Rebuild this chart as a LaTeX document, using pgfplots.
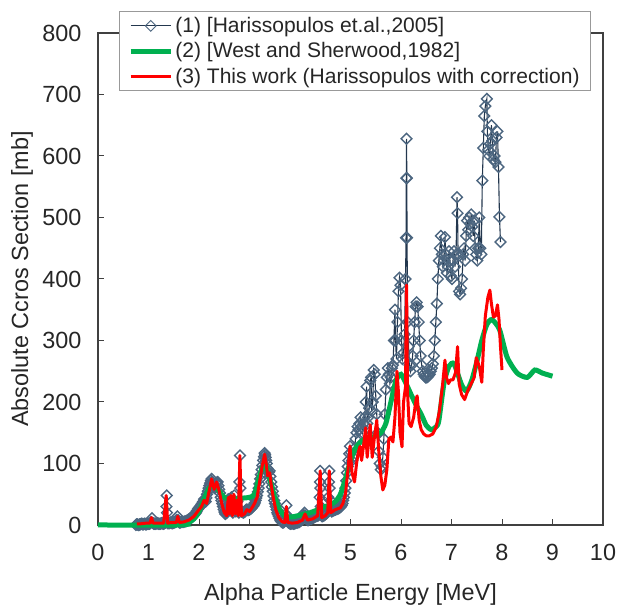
\documentclass[border=0pt]{standalone}
\usepackage{pgfplots}
\pgfplotsset{compat=1.18}
\usepackage{pgfplotstable}
\usepackage{fontspec}
\setmainfont{Liberation Sans}
\definecolor{hmark}{RGB}{76,102,128}
\definecolor{hline}{RGB}{35,55,78}
\definecolor{wgreen}{RGB}{0,176,80}
\definecolor{axgray}{RGB}{64,64,64}
\pgfplotsset{
  mylegline/.style={legend image code/.code={\draw[##1] (0bp,0bp) -- (40bp,0bp);}},
  mylegmark/.style={legend image code/.code={\draw[##1, mark repeat=2, mark phase=2, mark options={rotate=45, draw=hmark, line width=0.9bp, fill=none, solid}] plot coordinates {(0bp,0bp) (20bp,0bp) (40bp,0bp)};}},
}

% (1) Harissopulos et al., 2005
\pgfplotstableread{
E s
0.75 0
0.765 1
0.78 1
0.795 0
0.81 0
0.825 1
0.84 1
0.855 2
0.87 2
0.885 1
0.90 1
0.915 2
0.93 2
0.945 1
0.96 1
0.975 2
0.99 2
1.005 2
1.02 2
1.035 3
1.05 5
1.07 11
1.09 3
1.105 2
1.12 2
1.135 2
1.15 2
1.165 3
1.18 3
1.195 2
1.21 2
1.225 2
1.24 2
1.255 3
1.27 3
1.285 2
1.30 2
1.32 3
1.34 4
1.355 30
1.36 48
1.365 20
1.38 3
1.40 3
1.42 3
1.435 4
1.45 4
1.465 3
1.48 3
1.495 4
1.51 4
1.525 5
1.54 5
1.555 8
1.57 14
1.585 8
1.60 5
1.615 4
1.63 4
1.645 5
1.66 5
1.68 5
1.70 5
1.72 6
1.74 6
1.76 7
1.78 8
1.80 9
1.82 10
1.84 12
1.86 13
1.88 14
1.90 16
1.92 18
1.94 20
1.96 23
1.98 26
2.00 28
2.02 30
2.04 32
2.06 35
2.08 38
2.10 42
2.115 40
2.13 38
2.145 44
2.16 50
2.175 55
2.19 60
2.205 64
2.22 68
2.235 72
2.25 75
2.265 70
2.28 65
2.295 62
2.31 60
2.325 64
2.34 68
2.355 69
2.37 70
2.385 64
2.40 58
2.415 52
2.43 45
2.445 40
2.46 35
2.475 30
2.49 25
2.505 21
2.52 18
2.535 19
2.55 20
2.565 30
2.58 42
2.595 32
2.61 25
2.625 35
2.64 45
2.655 32
2.67 20
2.685 34
2.70 48
2.715 35
2.73 22
2.745 30
2.76 38
2.775 28
2.79 20
2.80 70
2.81 113
2.82 60
2.84 22
2.86 21
2.88 20
2.895 21
2.91 22
2.925 24
2.94 25
2.955 25
2.97 24
2.985 25
3.00 25
3.015 26
3.03 27
3.045 28
3.06 30
3.075 31
3.09 33
3.105 36
3.12 40
3.135 44
3.15 48
3.165 54
3.18 60
3.195 67
3.21 75
3.225 82
3.24 90
3.255 97
3.27 105
3.285 111
3.30 117
3.31 114
3.32 110
3.33 105
3.34 100
3.355 92
3.37 85
3.385 86
3.40 88
3.415 79
3.43 70
3.445 62
3.46 55
3.475 47
3.49 40
3.505 35
3.52 30
3.535 25
3.55 20
3.565 17
3.58 14
3.595 11
3.61 8
3.625 6
3.64 5
3.655 4
3.67 4
3.685 5
3.70 8
3.715 18
3.73 32
3.745 15
3.76 5
3.775 4
3.79 3
3.805 2
3.82 2
3.835 3
3.85 3
3.865 2
3.88 2
3.895 3
3.91 3
3.925 4
3.94 4
3.955 4
3.97 5
3.985 5
4.00 6
4.015 7
4.03 8
4.045 10
4.06 12
4.075 16
4.09 20
4.105 15
4.12 12
4.135 10
4.15 8
4.165 8
4.18 9
4.195 10
4.21 10
4.225 10
4.24 11
4.255 12
4.27 12
4.285 13
4.30 14
4.315 14
4.33 15
4.35 15
4.37 16
4.39 45
4.395 70
4.40 88
4.405 60
4.41 30
4.425 20
4.44 14
4.46 15
4.48 16
4.495 17
4.51 18
4.525 19
4.54 20
4.56 45
4.575 70
4.58 88
4.585 60
4.60 40
4.615 30
4.63 22
4.645 23
4.66 24
4.675 24
4.69 25
4.705 25
4.72 26
4.735 26
4.75 27
4.765 27
4.78 28
4.795 29
4.81 30
4.825 32
4.84 35
4.855 40
4.87 45
4.885 52
4.90 60
4.915 72
4.93 85
4.945 95
4.96 105
4.975 116
4.99 128
5.01 118
5.03 105
5.05 110
5.08 125
5.10 140
5.12 150
5.14 160
5.16 155
5.18 165
5.20 175
5.22 160
5.24 150
5.26 165
5.28 175
5.30 200
5.32 225
5.33 165
5.35 175
5.37 190
5.39 235
5.41 240
5.42 185
5.44 200
5.46 252
5.48 245
5.50 210
5.52 180
5.54 150
5.56 120
5.58 100
5.60 90
5.62 95
5.64 110
5.66 140
5.68 180
5.70 220
5.72 240
5.74 255
5.76 245
5.78 230
5.80 240
5.82 255
5.84 260
5.86 300
5.88 350
5.89 300
5.91 270
5.93 330
5.95 380
5.97 402
5.99 390
6.01 300
6.03 270
6.05 280
6.07 310
6.09 400
6.10 467
6.105 564
6.11 628
6.115 564
6.12 467
6.13 330
6.15 290
6.17 260
6.19 250
6.21 260
6.23 275
6.25 300
6.27 330
6.29 355
6.31 362
6.33 355
6.35 330
6.37 300
6.39 275
6.41 260
6.43 250
6.45 245
6.47 242
6.49 240
6.51 240
6.53 241
6.55 243
6.57 245
6.59 250
6.61 255
6.63 262
6.65 275
6.67 300
6.69 330
6.71 360
6.73 400
6.75 430
6.77 450
6.79 470
6.81 440
6.83 420
6.85 430
6.87 468
6.89 440
6.91 410
6.93 420
6.95 445
6.97 430
6.99 405
7.01 400
7.03 430
7.05 445
7.07 420
7.09 440
7.11 533
7.12 507
7.13 440
7.15 380
7.17 375
7.19 385
7.21 400
7.23 440
7.25 450
7.27 430
7.29 470
7.31 495
7.33 480
7.35 500
7.37 490
7.39 505
7.41 485
7.43 470
7.45 495
7.47 450
7.49 440
7.51 430
7.53 450
7.55 500
7.57 450
7.59 440
7.61 560
7.63 613
7.65 665
7.67 681
7.70 693
7.71 640
7.73 610
7.75 600
7.77 620
7.79 650
7.81 625
7.83 595
7.85 600
7.87 590
7.89 630
7.91 640
7.93 582
7.95 501
7.97 460
}\tone

% (2) West and Sherwood, 1982
\pgfplotstableread{
E s
0 0
1.6 0
1.7 1
1.8 4
1.9 10
2.0 22
2.1 42
2.2 60
2.3 64
2.4 55
2.5 45
2.6 42
2.7 42
2.8 43
2.9 44
3.0 45
3.1 50
3.2 80
3.3 100
3.4 75
3.5 45
3.6 25
3.7 15
3.8 13
3.9 14
4.0 16
4.1 18
4.2 20
4.3 23
4.4 27
4.5 30
4.6 33
4.7 38
4.8 50
4.9 75
5.0 105
5.1 125
5.2 135
5.3 140
5.4 142
5.5 145
5.6 150
5.7 165
5.8 200
5.9 235
6.0 245
6.1 230
6.2 212
6.3 195
6.4 180
6.5 162
6.6 155
6.7 160
6.75 170
6.85 230
6.95 258
7.05 262
7.2 228
7.3 218
7.4 235
7.5 265
7.6 300
7.7 326
7.8 334
7.95 318
8.1 273
8.3 247
8.5 240
8.65 252
8.8 247
9.0 242
}\ttwo

% (3) This work
\pgfplotstableread{
E s
0.77 2
0.85 2
0.95 3
1.03 3
1.06 12
1.09 3
1.20 3
1.30 3
1.35 48
1.38 3
1.45 4
1.55 4
1.58 14
1.61 4
1.70 5
1.80 8
1.90 14
2.00 25
2.05 30
2.10 40
2.15 35
2.20 55
2.25 75
2.30 58
2.35 70
2.40 55
2.45 35
2.50 20
2.55 15
2.58 45
2.60 18
2.63 48
2.66 15
2.69 50
2.72 18
2.75 40
2.78 15
2.81 113
2.84 15
2.90 18
2.95 25
3.00 22
3.05 28
3.10 35
3.15 45
3.20 70
3.25 95
3.30 115
3.33 100
3.36 80
3.40 85
3.43 65
3.47 45
3.52 25
3.58 12
3.65 5
3.70 4
3.73 30
3.76 4
3.85 3
3.95 4
4.05 8
4.10 18
4.15 8
4.25 10
4.35 15
4.40 88
4.43 12
4.50 15
4.55 20
4.58 88
4.61 20
4.70 25
4.80 28
4.85 35
4.90 50
4.95 90
4.99 128
5.03 85
5.08 70
5.12 100
5.16 120
5.19 128
5.22 105
5.26 130
5.30 158
5.33 110
5.36 135
5.39 163
5.43 110
5.47 140
5.52 170
5.56 120
5.60 80
5.64 57
5.68 65
5.72 90
5.76 140
5.80 143
5.84 135
5.88 175
5.92 250
5.95 215
5.98 150
6.02 127
6.05 200
6.09 225
6.11 390
6.13 215
6.16 165
6.20 160
6.25 175
6.30 205
6.32 210
6.36 170
6.40 155
6.45 148
6.50 145
6.56 145
6.63 148
6.70 160
6.76 185
6.82 225
6.87 268
6.90 240
6.94 230
6.98 236
7.03 236
7.08 248
7.12 290
7.15 230
7.20 212
7.26 204
7.32 218
7.38 228
7.45 240
7.49 272
7.55 258
7.60 232
7.63 285
7.67 340
7.72 370
7.76 382
7.79 360
7.83 338
7.87 340
7.91 358
7.94 335
7.97 290
8.00 252
}\tthree

\begin{document}
\begin{tikzpicture}
\begin{axis}[
  name=ax,
  scale only axis, width=505bp, height=492bp,
  xmin=0, xmax=10, ymin=0, ymax=800,
  xtick={0,1,...,10}, ytick={0,100,...,800},
  tick align=inside, xtick pos=bottom, ytick pos=left,
  major tick length=6bp,
  axis line style={axgray, line width=1.3bp},
  tick style={axgray, line width=1bp},
  /pgf/number format/assume math mode=true,
  ticklabel style={font=\fontsize{23.5}{28}\selectfont, text=black!85},
  xticklabel style={yshift=-16bp},
  yticklabel style={xshift=-13bp},
  xlabel={Alpha Particle Energy [MeV]},
  ylabel={Absolute Ccros Section [mb]},
  label style={font=\fontsize{23.5}{28}\selectfont, text=black!85},
  xlabel style={at={(axis description cs:0.5,-0.142)}, anchor=center},
  ylabel style={at={(axis description cs:-0.1505,0.5)}, anchor=center},
  clip=false,
  clip marker paths=true,
  legend cell align=left,
  legend style={at={(0.042,1.045)}, anchor=north west, draw=black!40, line width=1bp,
    fill=white, font=\fontsize{21.1}{25}\selectfont, text=black!85,
    inner xsep=8.5bp, inner ysep=4bp, row sep=4bp, nodes={inner sep=2.2bp}},
]
\addplot[color=hline, line width=1.1bp, mark=square, mark size=3.8bp,
  mark options={rotate=45, draw=hmark, line width=1.4bp, fill=none, solid},
  mylegmark]
  table[x=E, y=s] {\tone};
\addlegendentry{(1) [Harissopulos et.al.,2005]}
\addplot[color=wgreen, line width=5bp, smooth, tension=0.4, mylegline]
  table[x=E, y=s] {\ttwo};
\addlegendentry{(2) [West and Sherwood,1982]}
\addplot[color=red, line width=3bp, line join=round, mylegline]
  table[x=E, y=s] {\tthree};
\addlegendentry{(3) This work (Harissopulos with correction)}
\end{axis}
\pgfresetboundingbox
\path ([xshift=-98bp,yshift=-82bp]ax.south west) rectangle ([xshift=15bp,yshift=33bp]ax.north east);
\end{tikzpicture}
\end{document}
